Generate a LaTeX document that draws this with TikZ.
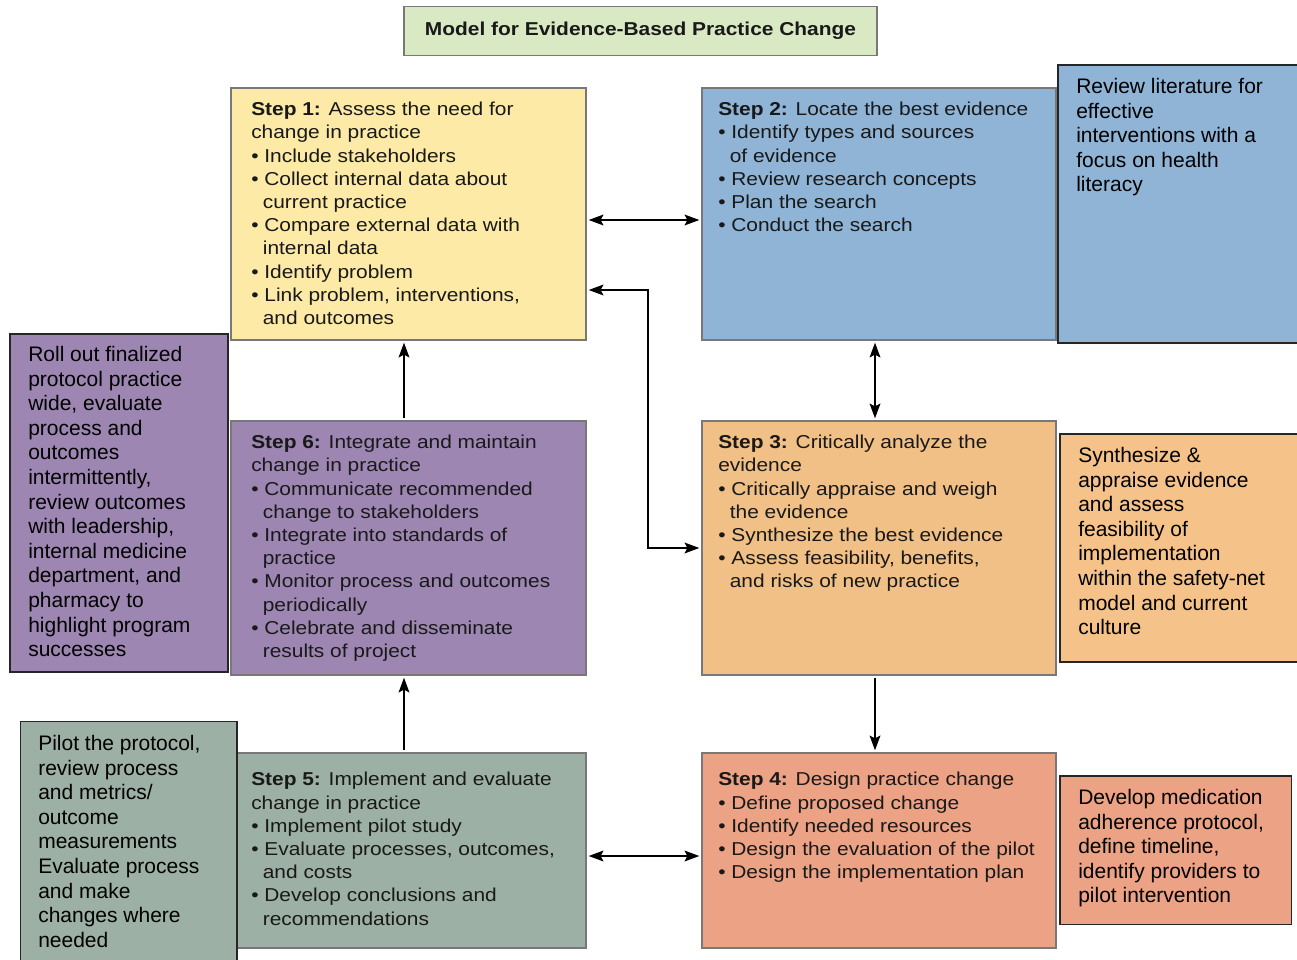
\documentclass[tikz,border=0pt]{standalone}
\usepackage{fontspec}
\usepackage{tikz}
\usepackage{xcolor}
\usetikzlibrary{arrows.meta}
\setmainfont{Liberation Sans}
\newfontfamily\stepfont{Liberation Sans}[FakeStretch=1.12]
\definecolor{titlegreen}{RGB}{217,233,196}
\definecolor{stepyellow}{RGB}{252,234,166}
\definecolor{stepblue}{RGB}{143,180,214}
\definecolor{steppurple}{RGB}{157,134,178}
\definecolor{steporange}{RGB}{241,192,134}
\definecolor{sideorange}{RGB}{245,195,137}
\definecolor{stepgreen}{RGB}{156,176,165}
\definecolor{stepsalmon}{RGB}{236,162,132}
\definecolor{boxgray}{RGB}{120,120,120}
\definecolor{textgray}{RGB}{25,25,25}
\newcommand{\stepbul}{\textbullet\ }
\newcommand{\stepind}{\hspace*{8.7pt}}

\begin{document}
\begin{tikzpicture}[x=0.75pt,y=0.75pt]
\tikzstyle{every node}+=[inner sep=0pt]
\tikzstyle{stepbox}=[draw=boxgray, line width=1pt, rectangle]
\tikzstyle{sidebox}=[draw=black!85, line width=1pt, rectangle]
\tikzstyle{steptext}=[anchor=north west, align=left, text=textgray, font=\stepfont\fontsize{14}{17.4}\selectfont]
\tikzstyle{sidetext}=[anchor=north west, align=left, text=black, font=\fontsize{15.75}{18.45}\selectfont]
\tikzstyle{link}=[line width=1.5pt, >={Stealth[length=11pt,width=8pt,inset=2pt]}, shorten >=1.5pt, shorten <=1.5pt]
\useasboundingbox (0,0) rectangle (1297,-960);
% title
\node [stepbox, fill=titlegreen, minimum width=354.75pt, minimum height=36.5pt, text=textgray, font=\stepfont\bfseries\fontsize{14}{16}\selectfont] (title) at (640.5,-31) {Model for Evidence-Based Practice Change};
% the six steps
\node [stepbox, fill=stepyellow, minimum width=266.25pt, minimum height=189pt] (s1) at (408.5,-214) {};
\node [stepbox, fill=stepblue, minimum width=265.5pt, minimum height=189pt] (s2) at (879,-214) {};
\node [stepbox, fill=steppurple, minimum width=266.25pt, minimum height=190.5pt] (s6) at (408.5,-548) {};
\node [stepbox, fill=steporange, minimum width=265.5pt, minimum height=190.5pt] (s3) at (879,-548) {};
\node [stepbox, fill=stepgreen, minimum width=261.75pt, minimum height=146.25pt] (s5) at (411.5,-850.5) {};
\node [stepbox, fill=stepsalmon, minimum width=265.5pt, minimum height=146.25pt] (s4) at (879,-850.5) {};
\node [steptext] (s1text) at (251,-102) {\textbf{Step 1:} Assess the need for\\change in practice\\\stepbul Include stakeholders\\\stepbul Collect internal data about\\\stepind current practice\\\stepbul Compare external data with\\\stepind internal data\\\stepbul Identify problem\\\stepbul Link problem, interventions,\\\stepind and outcomes};
\node [steptext] (s2text) at (718,-102) {\textbf{Step 2:} Locate the best evidence\\\stepbul Identify types and sources\\\stepind of evidence\\\stepbul Review research concepts\\\stepbul Plan the search\\\stepbul Conduct the search};
\node [steptext] (s6text) at (251,-435) {\textbf{Step 6:} Integrate and maintain\\change in practice\\\stepbul Communicate recommended\\\stepind change to stakeholders\\\stepbul Integrate into standards of\\\stepind practice\\\stepbul Monitor process and outcomes\\\stepind periodically\\\stepbul Celebrate and disseminate\\\stepind results of project};
\node [steptext] (s3text) at (718,-435) {\textbf{Step 3:} Critically analyze the\\evidence\\\stepbul Critically appraise and weigh\\\stepind the evidence\\\stepbul Synthesize the best evidence\\\stepbul Assess feasibility, benefits,\\\stepind and risks of new practice};
\node [steptext] (s5text) at (251,-772) {\textbf{Step 5:} Implement and evaluate\\change in practice\\\stepbul Implement pilot study\\\stepbul Evaluate processes, outcomes,\\\stepind and costs\\\stepbul Develop conclusions and\\\stepind recommendations};
\node [steptext] (s4text) at (718,-772) {\textbf{Step 4:} Design practice change\\\stepbul Define proposed change\\\stepbul Identify needed resources\\\stepbul Design the evaluation of the pilot\\\stepbul Design the implementation plan};
% notes beside the steps
\node [sidebox, fill=stepblue, minimum width=181.5pt, minimum height=208.5pt] (n2) at (1179,-204) {};
\node [sidebox, fill=steppurple, minimum width=163.5pt, minimum height=253.5pt] (n6) at (119,-503) {};
\node [sidebox, fill=sideorange, minimum width=180pt, minimum height=171pt] (n3) at (1180,-548) {};
\node [sidebox, fill=stepsalmon, minimum width=173.6pt, minimum height=111.4pt] (n4) at (1175.75,-850.25) {};
\node [sidebox, fill=stepgreen, minimum width=162.4pt, minimum height=182.6pt] (n5) at (128.75,-843.25) {};
\node [sidetext] (n2text) at (1076,-78) {Review literature for\\effective\\interventions with a\\focus on health\\literacy};
\node [sidetext] (n6text) at (28,-346) {Roll out finalized\\protocol practice\\wide, evaluate\\process and\\outcomes\\intermittently,\\review outcomes\\with leadership,\\internal medicine\\department, and\\pharmacy to\\highlight program\\successes};
\node [sidetext] (n3text) at (1078,-447) {Synthesize \&\\appraise evidence\\and assess\\feasibility of\\implementation\\within the safety-net\\model and current\\culture};
\node [sidetext] (n4text) at (1078,-789) {Develop medication\\adherence protocol,\\define timeline,\\identify providers to\\pilot intervention};
\node [sidetext] (n5text) at (38,-735) {Pilot the protocol,\\review process\\and metrics/\\outcome\\measurements\\Evaluate process\\and make\\changes where\\needed};
% links
\coordinate (bend) at (648,-290);
\draw [link,<->] ([yshift=-4.5pt]s1.east) -- ([yshift=-4.5pt]s2.west);
\draw [link,<->] (s1.east |- bend) -- (bend) |- (s3.west);
\draw [link,->] (s6.north -| 404,0) -- (s1.south -| 404,0);
\draw [link,<->] (s2.south -| 875,0) -- (s3.north -| 875,0);
\draw [link,->] (s3.south -| 875,0) -- (s4.north -| 875,0);
\draw [link,->] (s5.north -| 404,0) -- (s6.south -| 404,0);
\draw [link,<->] (s5.east |- 0,-856) -- (s4.west |- 0,-856);
\end{tikzpicture}
\end{document}
